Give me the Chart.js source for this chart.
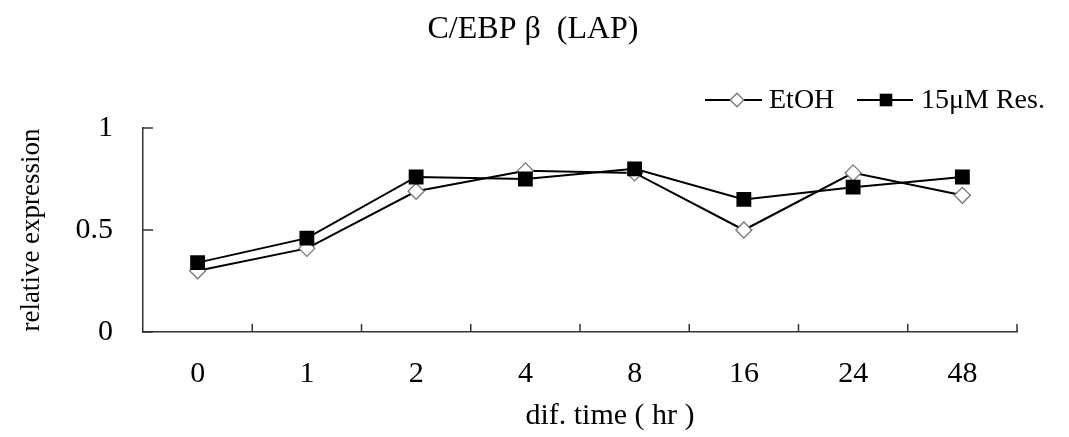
<!DOCTYPE html>
<html>
<head>
<meta charset="utf-8">
<script src="https://cdn.jsdelivr.net/npm/chart.js@4.4.1/dist/chart.umd.min.js"></script>
<style>
  html, body { margin: 0; padding: 0; background: #fff; }
</style>
</head>
<body>
<canvas id="chart" width="1069" height="437"></canvas>
<script>
const TIMES = ["0", "1", "2", "4", "8", "16", "24", "48"];
const ETOH = [0.30, 0.41, 0.69, 0.79, 0.78, 0.50, 0.78, 0.67];
const RES_15UM = [0.34, 0.46, 0.76, 0.75, 0.80, 0.65, 0.71, 0.76];
const Y_TICKS = [0, 0.5, 1];

const SERIF = "'Liberation Serif', 'DejaVu Serif', serif";
const AXIS_COLOR = "#333";

const etohStyle = {
  pointStyle: "rectRot",
  radius: 8,
  backgroundColor: "#ffffff",
  borderColor: "#777777",
  borderWidth: 1.3,
};
const resStyle = {
  pointStyle: "rect",
  radius: 10.5,
  backgroundColor: "#000000",
  borderColor: "#000000",
  borderWidth: 0,
};

function line(ctx, x1, y1, x2, y2) {
  ctx.beginPath();
  ctx.moveTo(x1, y1);
  ctx.lineTo(x2, y2);
  ctx.stroke();
}

function drawMarker(ctx, style, x, y) {
  ctx.save();
  ctx.fillStyle = style.backgroundColor;
  ctx.strokeStyle = style.borderColor;
  ctx.lineWidth = style.borderWidth;
  Chart.helpers.drawPoint(ctx, {
    pointStyle: style.pointStyle,
    radius: style.radius * 0.85,
    rotation: 0,
    borderWidth: style.borderWidth,
  }, x, y);
  ctx.restore();
}

const decorPlugin = {
  id: "decor",
  afterDraw(chart) {
    const { ctx, chartArea, scales } = chart;
    const xs = scales.x;
    const ys = scales.y;

    ctx.save();
    ctx.strokeStyle = AXIS_COLOR;
    ctx.lineWidth = 1.5;

    // inward ticks on the y axis
    ys.ticks.forEach((tick) => {
      const py = ys.getPixelForValue(tick.value);
      line(ctx, chartArea.left, py, chartArea.left + 10, py);
    });

    // inward ticks on the x axis, between categories
    const half = (xs.getPixelForValue(1) - xs.getPixelForValue(0)) / 2;
    for (let i = 1; i <= TIMES.length; i++) {
      const px = xs.getPixelForValue(i) - half;
      line(ctx, px, chartArea.bottom, px, chartArea.bottom - 8);
    }

    // title
    ctx.fillStyle = "#000";
    ctx.textBaseline = "middle";
    ctx.textAlign = "center";
    ctx.font = `32px ${SERIF}`;
    ctx.fillText("C/EBP β  (LAP)", 533, 30);

    // x axis title
    ctx.font = `30px ${SERIF}`;
    ctx.fillText("dif. time ( hr )", 610, 416);

    // legend
    ctx.textAlign = "left";
    ctx.font = `28px ${SERIF}`;
    ctx.strokeStyle = "#000";
    ctx.lineWidth = 2;
    line(ctx, 705, 100, 762, 100);
    drawMarker(ctx, etohStyle, 737, 100);
    ctx.fillText("EtOH", 769, 101);
    line(ctx, 857, 100, 913, 100);
    drawMarker(ctx, resStyle, 886, 100);
    ctx.fillText("15μM Res.", 921, 101);

    ctx.restore();
  },
};

new Chart(document.getElementById("chart"), {
  type: "line",
  data: {
    labels: TIMES,
    datasets: [
      {
        label: "EtOH",
        data: ETOH,
        order: 1,
        borderColor: "#000",
        borderWidth: 2,
        pointStyle: etohStyle.pointStyle,
        pointRadius: etohStyle.radius,
        pointBackgroundColor: etohStyle.backgroundColor,
        pointBorderColor: etohStyle.borderColor,
        pointBorderWidth: etohStyle.borderWidth,
        tension: 0,
      },
      {
        label: "15μM Res.",
        data: RES_15UM,
        order: 0,
        borderColor: "#000",
        borderWidth: 2,
        pointStyle: resStyle.pointStyle,
        pointRadius: resStyle.radius,
        pointBackgroundColor: resStyle.backgroundColor,
        pointBorderColor: resStyle.borderColor,
        pointBorderWidth: resStyle.borderWidth,
        tension: 0,
      },
    ],
  },
  options: {
    responsive: false,
    animation: false,
    devicePixelRatio: 1,
    layout: {
      padding: { left: 0, right: 52, top: 128, bottom: 0 },
    },
    plugins: {
      legend: { display: false },
      title: { display: false },
      tooltip: { enabled: false },
    },
    scales: {
      x: {
        type: "category",
        offset: true,
        grid: { display: false, drawTicks: false },
        border: { display: true, color: AXIS_COLOR, width: 1.5 },
        ticks: {
          color: "#000",
          padding: 24,
          font: { family: SERIF, size: 30 },
        },
        afterFit(scale) {
          scale.height = 105;
        },
      },
      y: {
        min: 0,
        max: 1,
        afterBuildTicks(scale) {
          scale.ticks = Y_TICKS.map((value) => ({ value }));
        },
        grid: { display: false, drawTicks: false },
        border: { display: true, color: AXIS_COLOR, width: 1.5 },
        ticks: {
          color: "#000",
          padding: 30,
          font: { family: SERIF, size: 30 },
          callback: (value) => String(value),
        },
        title: {
          display: true,
          text: "relative expression",
          color: "#000",
          font: { family: SERIF, size: 27 },
          padding: { top: 16, bottom: 0 },
        },
        afterFit(scale) {
          scale.width = 143;
        },
      },
    },
  },
  plugins: [decorPlugin],
});
</script>
</body>
</html>
